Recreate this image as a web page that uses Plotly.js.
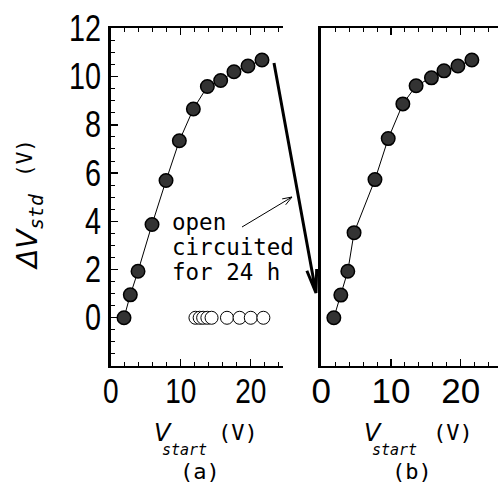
<!DOCTYPE html>
<html><head><meta charset="utf-8">
<script src="https://cdn.plot.ly/plotly-3.0.1.min.js"></script>
<style>html,body{margin:0;padding:0;background:#fff}</style>
</head><body><div id="chart" style="width:498px;height:486px"></div>
<script>
// ---- data ----
const xA = [1.9, 2.8, 3.9, 5.9, 7.9, 9.8, 11.8, 13.8, 15.7, 17.6, 19.6, 21.6];
const yA = [0, 0.95, 1.93, 3.87, 5.69, 7.34, 8.66, 9.59, 9.84, 10.2, 10.44, 10.69];
const xOpen = [12.1, 12.7, 13.2, 13.8, 14.4, 16.6, 18.4, 20.0, 21.8];
const yOpen = [0, 0, 0, 0, 0, 0, 0, 0, 0];
const xB = [1.8, 2.8, 3.8, 4.7, 7.7, 9.6, 11.7, 13.6, 15.8, 17.6, 19.6, 21.6];
const yB = [0, 0.94, 1.93, 3.53, 5.73, 7.43, 8.87, 9.62, 9.95, 10.24, 10.44, 10.69];
const xTickVals = [0, 10, 20];
const xTickText = ['0', '10', '20'];
const yTickVals = [0, 2, 4, 6, 8, 10, 12];
const yTickText = ['0', '2', '4', '6', '8', '10', '12'];
const noteLines = ['open', 'circuited', 'for 24 h'];
const panelLabels = ['(a)', '(b)'];

// ---- layout helpers ----
const W = 498, H = 486;
const px = v => v / W, py = v => 1 - v / H;
const NUM = 'Liberation Sans, Arial, sans-serif';
const MONO = 'DejaVu Sans Mono, monospace';
const SANS = 'DejaVu Sans, sans-serif';

function arrowPath(x1, y1, x2, y2, len, ang) {
  const dx = x1 - x2, dy = y1 - y2, L = Math.hypot(dx, dy);
  const ux = dx / L, uy = dy / L, a = ang * Math.PI / 180;
  const r = s => [x2 + len * (ux * Math.cos(s) - uy * Math.sin(s)), y2 + len * (ux * Math.sin(s) + uy * Math.cos(s))];
  const b1 = r(a), b2 = r(-a);
  const P = (x, y) => px(x) + ',' + py(y);
  return 'M' + P(x1, y1) + ' L' + P(x2, y2) + ' M' + P(b1[0], b1[1]) + ' L' + P(x2, y2) + ' L' + P(b2[0], b2[1]);
}

const yDom = [py(366), py(28.4)];
const xCommon = {
  showline: true, linecolor: '#000', linewidth: 2, mirror: 'ticks',
  ticks: 'inside', ticklen: 7, tickwidth: 1.3, tickcolor: '#000',
  tickmode: 'array', tickvals: xTickVals, ticktext: xTickText,
  tickfont: {family: NUM, size: 35, color: '#000'}, ticklabelstandoff: -7,
  minor: {tickmode: 'linear', tick0: 0, dtick: 2, ticks: 'inside', ticklen: 4, tickwidth: 1, tickcolor: '#000', showgrid: false},
  showgrid: false, zeroline: false, fixedrange: true
};

const mk = {size: 13.5, color: '#333', line: {color: '#000', width: 1.5}};
const traces = [
  {x: xA, y: yA, xaxis: 'x', yaxis: 'y', mode: 'lines+markers', marker: mk, line: {color: '#000', width: 1}, cliponaxis: false},
  {x: xOpen, y: yOpen, xaxis: 'x', yaxis: 'y', mode: 'markers', marker: {size: 13, color: '#fff', line: {color: '#000', width: 1}}, cliponaxis: false},
  {x: xB, y: yB, xaxis: 'x2', yaxis: 'y2', mode: 'lines+markers', marker: mk, line: {color: '#000', width: 1}, cliponaxis: false}
];

const ann = [];
noteLines.forEach((t, i) => ann.push({xref: 'paper', yref: 'paper', x: px(170), y: py(222 + 25 * i), xanchor: 'left', yanchor: 'middle', text: t, showarrow: false, font: {family: MONO, size: 22.5, color: '#000'}}));
// x titles
[[152, 216, 200], [362, 431, 412]].forEach((p, i) => {
  ann.push({xref: 'paper', yref: 'paper', x: px(p[0]), y: py(433), xanchor: 'left', yanchor: 'middle', text: '<i>V</i>', showarrow: false, font: {family: SANS, size: 24, color: '#000'}});
  ann.push({xref: 'paper', yref: 'paper', x: px(p[0] + 8), y: py(450), xanchor: 'left', yanchor: 'middle', text: '<i>start</i>', showarrow: false, font: {family: MONO, size: 15, color: '#000'}});
  ann.push({xref: 'paper', yref: 'paper', x: px(p[1]), y: py(432), xanchor: 'left', yanchor: 'middle', text: '(V)', showarrow: false, font: {family: MONO, size: 22, color: '#000'}});
  ann.push({xref: 'paper', yref: 'paper', x: px(p[2]), y: py(471), xanchor: 'center', yanchor: 'middle', text: panelLabels[i], showarrow: false, font: {family: MONO, size: 22, color: '#000'}});
});
// y title (rotated): ΔV_std and (V)
ann.push({xref: 'paper', yref: 'paper', x: px(29), y: py(232), xanchor: 'center', yanchor: 'middle', textangle: -90,
  text: '<i>ΔV</i><sub><span style="font-family:DejaVu Sans Mono"><i>std</i></span></sub>',
  showarrow: false, font: {family: SANS, size: 28, color: '#000'}});
ann.push({xref: 'paper', yref: 'paper', x: px(25), y: py(158), xanchor: 'center', yanchor: 'middle', textangle: -90,
  text: '(V)', showarrow: false, font: {family: MONO, size: 21, color: '#000'}});

const layout = {
  width: W, height: H, margin: {l: 0, r: 0, t: 0, b: 0},
  paper_bgcolor: '#fff', plot_bgcolor: 'rgba(0,0,0,0)', showlegend: false,
  font: {family: NUM, color: '#000'},
  xaxis: Object.assign({}, xCommon, {domain: [px(110.7), px(283)], range: [0, 24.6], anchor: 'y'}),
  xaxis2: Object.assign({}, xCommon, {domain: [px(321.3), 1], range: [0, 25.35], anchor: 'y2'}),
  yaxis: {domain: yDom, range: [-2, 12], anchor: 'x', showline: true, linecolor: '#000', linewidth: 2.5,
    ticks: 'inside', ticklen: 7, tickwidth: 1.3, tickcolor: '#000', tickmode: 'array', tickvals: yTickVals, ticktext: yTickText,
    tickfont: {family: NUM, size: 36, color: '#000'},
    minor: {tickmode: 'linear', tick0: 0, dtick: 0.5, ticks: 'inside', ticklen: 4, tickwidth: 1, tickcolor: '#000', showgrid: false},
    showgrid: false, zeroline: false, fixedrange: true},
  yaxis2: {domain: yDom, range: [-2, 12], anchor: 'x2', showline: true, linecolor: '#000', linewidth: 3.5,
    ticks: '', showticklabels: false, showgrid: false, zeroline: false, fixedrange: true},
  shapes: [
    {type: 'path', xref: 'paper', yref: 'paper', path: arrowPath(274, 63, 316, 293, 24, 12), line: {color: '#000', width: 3}},
    {type: 'path', xref: 'paper', yref: 'paper', path: arrowPath(242, 227, 292, 197, 10, 20), line: {color: '#000', width: 1}}
  ],
  annotations: ann
};
Plotly.newPlot('chart', traces, layout, {displayModeBar: false, staticPlot: true}).then(gd => {
  // condensed, tall digits like the reference's narrow numerals
  gd.querySelectorAll('.xtick text, .ytick text').forEach(t => {
    const w = t.getComputedTextLength();
    if (w > 0) {
      t.setAttribute('textLength', (w * 0.8).toFixed(1));
      t.setAttribute('lengthAdjust', 'spacingAndGlyphs');
    }
  });
});
</script></body></html>
